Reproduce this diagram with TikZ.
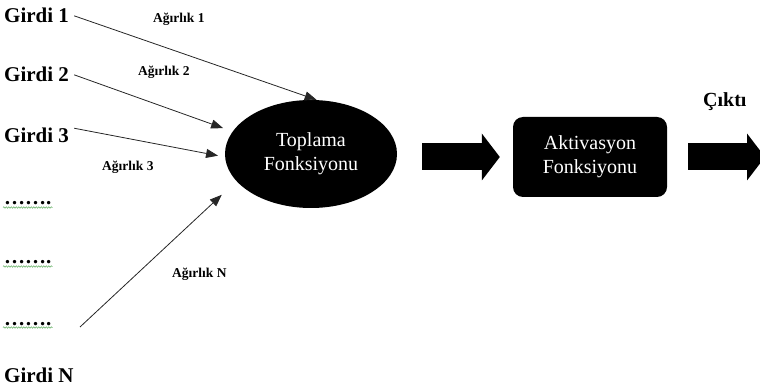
\documentclass[tikz,border=0pt]{standalone}
\usepackage{fontspec}
\setmainfont{Liberation Serif}
\usetikzlibrary{positioning, arrows.meta, shapes.geometric, decorations.pathmorphing}
\definecolor{spellgreen}{RGB}{90, 170, 90}

\tikzset{
  girdi/.style={font=\fontsize{21}{24}\selectfont\bfseries, inner xsep=5pt, inner ysep=0pt, anchor=base west},
  agirlik/.style={font=\fontsize{13.5}{15}\selectfont\bfseries, inner sep=0pt, anchor=base west},
  kutu/.style={fill=black, text=white, font=\fontsize{20}{24}\selectfont, align=center, inner sep=0pt},
  ince/.style={draw=black!85, line width=0.8pt, -{Triangle[length=12pt, width=9pt]}},
  kalin/.style={line width=27pt, -{Triangle[length=18pt, width=47pt, line width=0pt]}},
  dalga/.style={draw=spellgreen, line width=0.5pt, decorate,
                decoration={snake, amplitude=0.7pt, segment length=2.5pt}}
}

\begin{document}
\begin{tikzpicture}[x=1pt, y=-1pt]
    \useasboundingbox (0,0) rectangle (760,387);

    % girdiler
    \node[girdi] (g1) at (-1,23) {Girdi 1};
    \node[girdi] (g2) at (-1,82) {Girdi 2};
    \node[girdi] (g3) at (-1,143) {Girdi 3};
    \node[girdi] (d1) at (-1,205) {…….};
    \node[girdi] (d2) at (-1,264) {…….};
    \node[girdi] (d3) at (-1,325) {…….};
    \node[girdi] (gn) at (-1,382) {Girdi N};
    \coordinate (nbas) at (80,327);

    \foreach \d in {d1, d2, d3}
        \draw[dalga] ([xshift=4pt, yshift=-2.5pt]\d.base west) -- ([xshift=-4pt, yshift=-2.5pt]\d.base east);

    % agirliklar
    \node[agirlik] (a1) at (153,23) {Ağırlık 1};
    \node[agirlik] (a2) at (138,76) {Ağırlık 2};
    \node[agirlik] (a3) at (102,171) {Ağırlık 3};
    \node[agirlik] (an) at (172,277) {Ağırlık N};

    % fonksiyonlar
    \node[kutu, ellipse, minimum width=172pt, minimum height=108pt] (sum) at (311,154) {Toplama\\Fonksiyonu};
    \node[kutu, rounded corners=10pt, minimum width=154pt, minimum height=80pt] (akt) at (590,157) {Aktivasyon\\Fonksiyonu};
    \node[font=\fontsize{20}{24}\selectfont\bfseries, inner sep=0pt, anchor=base west] (cikti) at (703,107) {Çıktı};
    \coordinate (cikis) at (765,157);

    \draw[ince] (g1.east) -- (sum.84);
    \draw[ince, shorten >=10pt] (g2.east) -- (sum.164);
    \draw[ince, shorten >=7pt] (g3.north east) -- (sum.182);
    \draw[ince, shorten >=20pt] (nbas) -- (sum.200);

    \draw[kalin, shorten <=25pt, shorten >=13pt] (sum.east |- akt.west) -- (akt.west);
    \draw[kalin, shorten <=21pt] (akt.east) -- (cikis);
\end{tikzpicture}
\end{document}
